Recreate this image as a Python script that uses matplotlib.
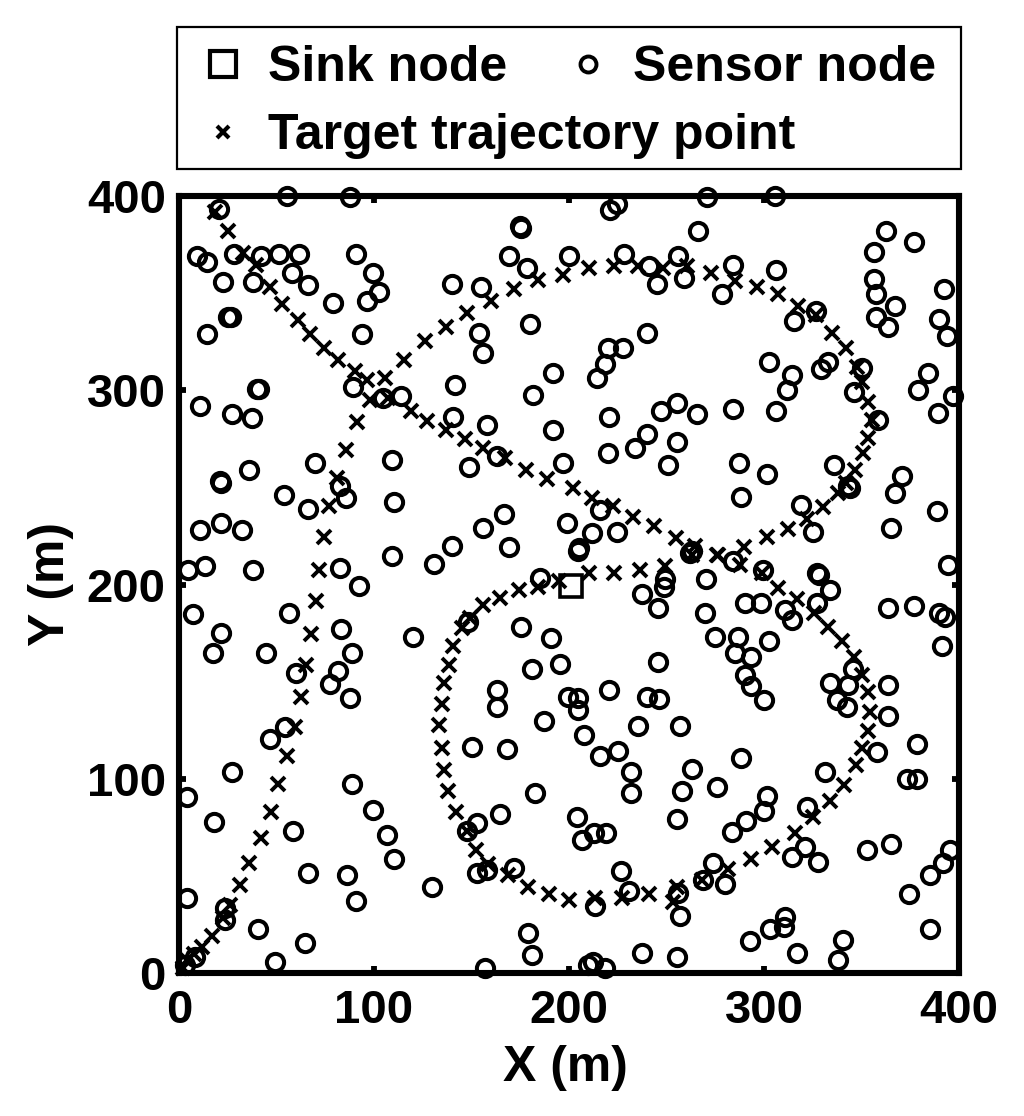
"""Sensor field with sink node and target trajectory."""

import matplotlib
matplotlib.use('Agg')
import matplotlib.pyplot as plt
from matplotlib.lines import Line2D
from matplotlib.patches import Rectangle

plt.rcParams['font.family'] = ['Liberation Sans', 'DejaVu Sans']
plt.rcParams['font.weight'] = 'bold'

sink_x = [201]
sink_y = [199]

# sensors
sensor_x = [
    20.7, 55.2, 87.7, 174.9, 175.6, 9, 14.5, 28, 42, 51.5, 61.7, 91, 169, 178.6, 200,
    22.7, 38, 57.8, 66, 99.7, 140, 154.7, 102.7, 96.6, 79, 26.5, 25, 14.2, 93.7, 180,
    153.7, 156, 192, 181.4, 141.5, 41, 40, 89, 114, 104.8, 10.8, 27.4, 37.3, 140.7, 158,
    192, 163, 196.7, 148.7, 109, 69.7, 35.9, 21.4, 21, 82.6, 85.5, 54, 66, 110, 166.8,
    156, 199, 10.8, 21.5, 32.5, 140, 169, 109, 130.8, 82.6, 38, 13.3, 4.8, 92.5, 185,
    221, 224.4, 271, 305.7, 266.3, 362.4, 377, 356.5, 228.2, 240.9, 255.7, 259.2, 245,
    284.3, 306, 278.6, 356.5, 357.5, 392.4, 367.2, 357.5, 363.8, 389.8, 393.7, 326.5,
    315.4, 240, 227.9, 220, 218.5, 214.5, 302.4, 333, 329, 314.6, 312, 350, 346, 384,
    378.9, 397, 389, 358.7, 220.7, 247, 255.6, 265.5, 284.3, 306, 240, 233.8, 255.6,
    219.8, 251, 287, 301.4, 336, 371, 367, 288, 343, 344, 319, 388.6, 365, 325, 216,
    224.4, 211.6, 204.8, 205, 262, 263, 284.3, 270, 299.7, 394.6, 327, 328, 249,
    7.4, 56.4, 21.5, 17.6, 44.4, 82.9, 88.9, 60, 81.7, 77.4, 87.7, 119.8, 54.4, 46.7,
    27.4, 88.5, 3.9, 99.7, 106.8, 18.1, 58.6, 110.3, 66, 86.3, 129.6, 91, 3.9, 23.6,
    23.6, 40.7, 64.6, 49.2, 157, 178.8, 181.2, 175.2, 190.8, 181.2, 195.4, 162.9, 162.9,
    187.2, 150, 168, 182.6, 164.6, 152.6, 147.5, 152.6, 157.8, 172, 148.4, 199.7, 3, 8,
    237.6, 245.8, 248.9, 269.8, 290, 298.5, 310.8, 314.5, 327, 333.9, 363.5, 377, 389.5,
    392.9, 391.2, 274.9, 286.9, 302.6, 285.1, 293.4, 290.3, 293.4, 300, 245.8, 345.8,
    333.9, 343.3, 363.8, 337.3, 342.4, 363.8, 378.3, 357.8, 331.3, 373.2, 378.3, 322,
    288, 263, 275.7, 257.8, 301.4, 300, 290.6, 283.8, 255.6, 231.8, 231.8, 225, 215.9,
    207.9, 220.7, 240.2, 246.3, 235.2, 257, 204.8, 204.8, 204, 206.5, 212.8, 218.8,
    226.7, 230.8, 213.3, 256, 257, 274, 268.9, 280, 321, 314.2, 327.9, 352.7, 365,
    395.4, 392, 385.2, 374.4, 385.2, 310.8, 310, 303, 292.8, 340.7, 338.2, 317.1, 237.6,
    255.6, 212.5, 209.9, 218.5,
]
sensor_y = [
    393.4, 400, 399.7, 384.3, 383.5, 369, 366, 370, 369, 370, 370, 370, 369, 362.8, 369,
    355.6, 355.6, 360.6, 354.3, 360.6, 354.6, 353.4, 350.8, 346, 344.8, 337.6, 337.5, 329, 329, 334,
    329.4, 319.4, 308.8, 297.7, 302.8, 300.7, 300.5, 301.6, 296.8, 296, 291.7, 288, 285.7, 286, 282,
    279.6, 266.4, 262.8, 260.4, 263.9, 262.8, 259, 252.2, 253.5, 250.8, 244.5, 246, 238.8, 242.3, 236.3,
    229, 231.6, 227.9, 231.6, 227.9, 219.7, 219.3, 214.5, 210.7, 208.5, 207.3, 209.7, 207.6, 199, 203.4,
    392.8, 395.8, 399.4, 400, 382.2, 382.2, 376.2, 371.4, 370.2, 364, 369.2, 358, 354.6,
    364.5, 362, 349.4, 357.2, 349.4, 352.2, 343.6, 337.6, 332.8, 336.6, 327.7, 340.9,
    335.4, 329.4, 322, 322, 313.4, 306.2, 314.8, 314.3, 311, 308, 299.9, 311.4, 299, 308.8,
    300.2, 296.8, 288.2, 284.8, 286.2, 289.4, 293.2, 288, 290.5, 289.4, 277.4, 270.2, 273.6,
    267.6, 261.6, 262.8, 256.8, 261.6, 255.6, 247, 244.8, 250.5, 249.5, 241, 237.6, 229, 226.8, 238.5,
    226.8, 226.5, 217, 219, 216, 217, 212, 203, 207.6, 210, 206, 205, 203,
    185, 185.5, 174.8, 164.5, 164.9, 176.9, 164.9, 154.3, 155.6, 148.8, 141.7, 173.1, 126.8, 120.3,
    103.3, 97.3, 90.5, 83.9, 71, 77.9, 73.1, 58.7, 51.7, 50.5, 44.1, 37.3, 38.5, 33.7,
    27.4, 22.7, 15.3, 5.9, 2.5, 20.5, 9.3, 178.3, 172.3, 156.5, 159, 145.7, 137.1,
    129.9, 116.5, 115.3, 92.5, 81.9, 77, 73.3, 51.7, 53, 54.3, 180.8, 142.2, 4, 8,
    194.9, 187.7, 198.8, 185.1, 190.3, 190.3, 186.8, 181.7, 190.3, 197, 187.7, 189, 185.5,
    183.4, 168.5, 173.1, 173.1, 170.9, 164.9, 162.8, 153.4, 147.7, 140.5, 159.9, 156.5,
    149.1, 148.2, 148.2, 140.5, 137.1, 132.5, 117.7, 114, 103.3, 99.7, 99.7, 85.3,
    110.5, 104.9, 96, 93.7, 91.3, 83.6, 78.4, 72.8, 79.3, 103.7, 92.5, 114.5, 111.7,
    122.5, 145.7, 142.2, 140.9, 127.3, 127.3, 141.4, 135.4, 80.5, 68.5, 71.9, 71.9,
    52.7, 42.3, 34.5, 41, 29.4, 56.5, 48, 45.9, 64.7, 59.6, 57.4, 63.4, 66.3,
    63.4, 56.5, 50.5, 40.6, 22.7, 28.7, 23.9, 22.5, 16.7, 17, 6.8, 10.5, 10.2,
    8.1, 5.9, 4.2, 2.5,
]

# trajectory, in the order the target moves
traj_x = [
    1.8, 4, 7.7, 12, 16.8, 22.7, 26, 31.3, 36, 42, 47.2, 50.6, 55.2, 59.5, 62.6, 65,
    67.5, 70, 72, 74.5, 77, 80.9, 85.5, 91.5, 98, 105.7, 115.4, 126.2, 136.8, 147.9,
    160, 172, 184, 196.8, 210.4, 223.2, 235.6, 248.4, 260.7, 272.7, 285.1, 296.6, 307.4,
    317.3, 326.5, 335, 342.1, 347.6, 350.1, 353.5, 355.3, 353.2, 350.6, 346.7, 342,
    338.2, 330, 322, 312.5, 301.4, 289.8, 275.7, 263, 249.2, 236.4, 223, 210, 195, 184,
    174.4, 164.6, 156, 149.2, 145, 140.7, 138.5, 135.9, 134.7, 133.5, 134.7, 135.9,
    138.1, 141.9, 147.5, 152.3, 158.6, 168.9, 179.2, 189.7, 199.8, 213.3, 227, 241.2,
    253.5, 255.2, 268, 281.4, 293.2, 304.3, 315.9, 325.3, 333.9, 341, 347.2, 350.5,
    353.2, 354.4, 353.2, 350.1, 346.4, 339.9, 333, 325.8, 316.8, 307.4, 298.8, 287.7,
    276.6, 264.6, 254.9, 243.8, 233, 222.4, 211.6, 202.2, 188.5, 177.8, 167.2, 156,
    146.7, 136.8, 127.4, 118.8, 107, 96.2, 90, 81.7, 74.4, 67.2, 61.2, 53, 46.7, 39.5,
    33, 25.3, 18.5,
]
traj_y = [
    2.5, 6.8, 10, 13.3, 19.1, 28.2, 35, 45.4, 56.5, 69.7, 83.1, 97.3, 111.7, 126.5,
    141.9, 158.5, 174.5, 191.6, 207.6, 224.4, 240.2, 254.8, 269, 283.4, 295, 306.2,
    315.7, 325.6, 332.8, 340, 346, 352, 356.8, 359.4, 362.8, 364, 364, 362.8, 364, 360.3,
    356.3, 353.4, 349.4, 343.6, 338.8, 329.7, 322, 312.2, 304.5, 294.2, 284.8, 275.4,
    267.6, 259, 252.2, 247, 239.9, 233.7, 228.7, 224.3, 219.3, 215.3, 215, 209.7, 207.6,
    206, 206, 201.6, 198.8, 197.1, 192.8, 189.4, 182.6, 177.4, 168.3, 158.5, 149.1,
    138.3, 127.7, 115.7, 104.5, 93.7, 82.7, 73.3, 63.4, 56, 50.5, 44.1, 40.7, 37.6, 38.5,
    38.5, 40.5, 36.8, 44.5, 48, 53.4, 58.6, 64.7, 72.3, 80.5, 88.7, 96.8, 107.1, 115.7,
    124.8, 134.5, 144.8, 153.4, 162.8, 170.9, 178.3, 185.1, 192.5, 198, 205.9, 210.2,
    215.3, 219.6, 223.9, 230.3, 235, 240.2, 244.5, 249.6, 254.4, 259, 265.1, 270.2,
    274.8, 279.3, 284.3, 289.1, 296, 305.4, 309.7, 315.7, 321.7, 329, 336.2, 344.5,
    353.4, 364.5, 370.5, 382.2, 392,
]

xticks = [0, 100, 200, 300, 400]
yticks = [0, 100, 200, 300, 400]

fig = plt.figure(figsize=(10.24, 11.16), dpi=100)
ax = fig.add_axes([179 / 1024, 1 - 973 / 1116, 780 / 1024, 777 / 1116])

ax.plot(traj_x, traj_y, 'x', color='k', ms=10.5, mew=2.8, clip_on=False, zorder=3)
ax.plot(sensor_x, sensor_y, 'o', color='k', mfc='none', ms=12.4, mew=2.9, clip_on=False, zorder=3)
ax.plot(sink_x, sink_y, 's', color='k', mfc='none', ms=16, mew=2.6, clip_on=False, zorder=4)

ax.set_xlim(0, 400)
ax.set_ylim(0, 400)
ax.set_xticks(xticks)
ax.set_yticks(yticks)
ax.tick_params(direction='in', top=True, right=True, length=5, width=4.2, labelsize=34)
ax.tick_params(axis='x', pad=11.5)
ax.tick_params(axis='y', pad=9.5)
for side in ax.spines.values():
    side.set_linewidth(4.4)
ax.set_xlabel('X (m)', fontsize=36, fontweight='bold', labelpad=9, x=0.495)
ax.set_ylabel('Y (m)', fontsize=36, fontweight='bold', labelpad=9)

# frame drawn by hand, its padding differs across and down
fig.add_artist(Rectangle((177 / 1024, 1 - 169 / 1116), 784 / 1024, 142 / 1116,
                         transform=fig.transFigure, fc='white', ec='k', lw=1.6))

handles = [
    Line2D([], [], ls='none', marker='s', color='k', mfc='none', ms=19, mew=3),
    Line2D([], [], ls='none', marker='x', color='k', ms=8.5, mew=3),
    Line2D([], [], ls='none', marker='o', color='k', mfc='none', ms=11.5, mew=2.8),
]
labels = ['Sink node', 'Target trajectory point', 'Sensor node']
leg = fig.legend(handles, labels, ncol=2, fontsize=36, loc='center',
                 bbox_to_anchor=(565 / 1024, 1 - 102 / 1116), frameon=False,
                 labelspacing=0.44, handletextpad=0.32, columnspacing=-4.73,
                 handlelength=1.16)

fig.savefig('out.png', dpi=100)
